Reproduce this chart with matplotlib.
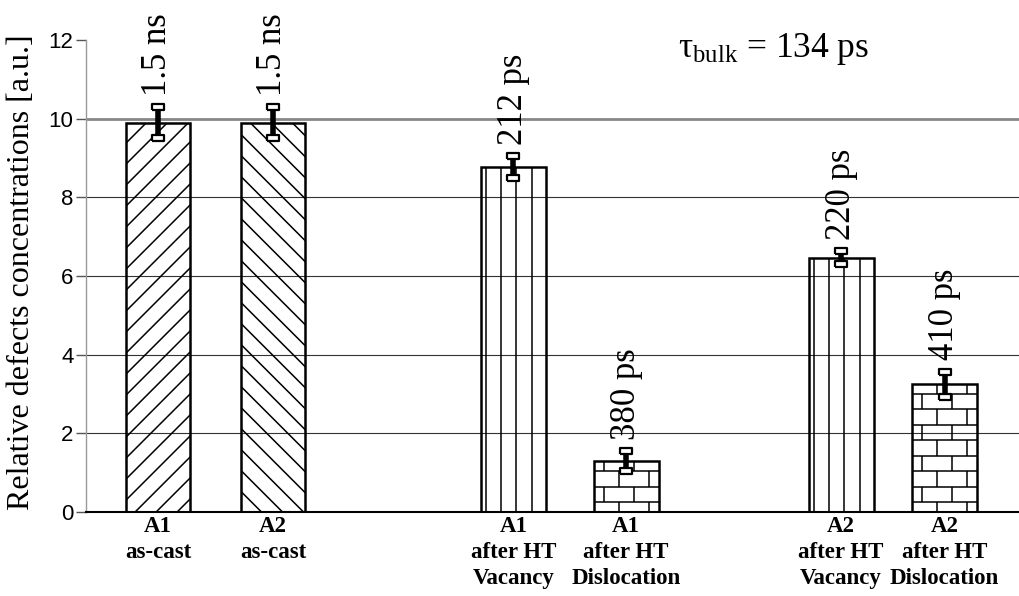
import matplotlib
matplotlib.use("Agg")
import matplotlib.pyplot as plt
import numpy as np
from matplotlib.collections import LineCollection

# data
categories = ['A1\nas-cast', 'A2\nas-cast',
              'A1\nafter HT\nVacancy', 'A1\nafter HT\nDislocation',
              'A2\nafter HT\nVacancy', 'A2\nafter HT\nDislocation']
values = [9.9, 9.9, 8.77, 1.3, 6.47, 3.25]
errors = [0.4, 0.4, 0.28, 0.25, 0.17, 0.32]
lifetimes = ['1.5 ns', '1.5 ns', '212 ps', '380 ps', '220 ps', '410 ps']
patterns = ['/', '\\', '|', 'brick', '|', 'brick']

# layout (bar slots along x, with gaps between groups)
slots = [0, 1, 3.09, 4.07, 5.94, 6.84]

plt.rcParams['mathtext.fontset'] = 'custom'
plt.rcParams['mathtext.rm'] = 'Liberation Serif'
plt.rcParams['mathtext.it'] = 'Liberation Serif:italic'

W, H = 1019, 596
fig = plt.figure(figsize=(W / 100, H / 100), dpi=100)
ax = fig.add_axes([86 / W, 1 - 512 / H, (W - 86) / W, (512 - 40) / H])
ax.set_xlim(-0.626, 7.487)
ax.set_ylim(0, 12)


def hatch(ax, bar, kind):
    # draw the fill pattern by hand, in pixels, clipped to the bar
    (x0, y0), (x1, y1) = ax.transData.transform(
        [(bar.get_x(), bar.get_y()),
         (bar.get_x() + bar.get_width(), bar.get_y() + bar.get_height())])
    segs = []
    if kind in ('/', '\\'):
        h = y1 - y0
        c = x0 - h
        while c < x1 + 5:
            if kind == '/':
                segs.append([(c, y0), (c + h, y1)])
            else:
                segs.append([(c, y1), (c + h, y0)])
            c += 21
    elif kind == '|':
        x = x0 + 5
        while x < x1 - 3:
            segs.append([(x, y0), (x, y1)])
            x += 15.3
    else:
        rh, bw = 15.5, 30
        k = 0
        yb = y0
        while yb < y1:
            yt = y0 + 10 + k * rh
            segs.append([(x0, yt), (x1, yt)])
            x = x0 + (25 if k % 2 == 0 else 10) - bw
            while x < x1:
                segs.append([(x, yb), (x, yt)])
                x += bw
            yb = yt
            k += 1
    inv = ax.transData.inverted()
    segs = [inv.transform(s) for s in segs]
    lc = LineCollection(segs, colors='black', linewidths=1.1, zorder=1.9)
    ax.add_collection(lc, autolim=False)
    lc.set_clip_path(bar)


bars = ax.bar(slots, values, width=0.565, facecolor='none',
              edgecolor='black', linewidth=1.8, zorder=2)
for b, p in zip(bars, patterns):
    hatch(ax, b, p)

eb = ax.errorbar(slots, values, yerr=errors, fmt='none', ecolor='black',
                 elinewidth=4, capsize=4, capthick=1.5, zorder=3)
cap_marker = [(-1, -0.6), (1, -0.6), (1, 0.6), (-1, 0.6), (-1, -0.6)]
for cl in eb.lines[1]:
    cl.set_marker(cap_marker)
    cl.set_markersize(8)
    cl.set_markerfacecolor('white')
    cl.set_markeredgecolor('black')
    cl.set_markeredgewidth(1.6)
    cl.set_zorder(4)

for x, v, e, t in zip(slots, values, errors, lifetimes):
    ax.annotate(t, xy=(x, v + e), xytext=(0, 8), textcoords='offset points',
                rotation=90, ha='center', va='bottom', fontsize=25,
                family='Liberation Serif')

fig.text(678 / W, 1 - 57 / H, r'$\mathrm{\tau_{bulk}}$ = 134 ps', fontsize=25.5,
         family='Liberation Serif', va='baseline', ha='left')

# axes styling
ax.set_yticks(np.arange(0, 13, 2))
ax.set_yticklabels([str(v) for v in range(0, 13, 2)], fontsize=16,
                   family='Liberation Sans')
ax.tick_params(axis='y', length=7, width=1, color='#555555', pad=2)
ax.set_xticks(slots)
ax.set_xticklabels(categories, fontsize=16.5, family='Liberation Serif',
                   fontweight='bold', linespacing=1.3)
ax.tick_params(axis='x', length=0, pad=3)

ax.set_axisbelow(True)
ax.grid(axis='y', color='#333333', linewidth=0.8)
for y, gl in zip(ax.get_yticks(), ax.get_ygridlines()):
    if y == 10:
        gl.set_color('#888888')
        gl.set_linewidth(2)
    if y == 12 or y == 0:
        gl.set_visible(False)

for s in ['top', 'right']:
    ax.spines[s].set_visible(False)
ax.spines['left'].set_color('#999999')
ax.spines['left'].set_linewidth(1)
ax.spines['bottom'].set_color('black')
ax.spines['bottom'].set_linewidth(1.5)

fig.text(22 / W, 1 - 272 / H, 'Relative defects concentrations [a.u.]',
         rotation=90, ha='center', va='center', fontsize=23,
         family='Liberation Serif')

fig.savefig('out.png', dpi=100)
